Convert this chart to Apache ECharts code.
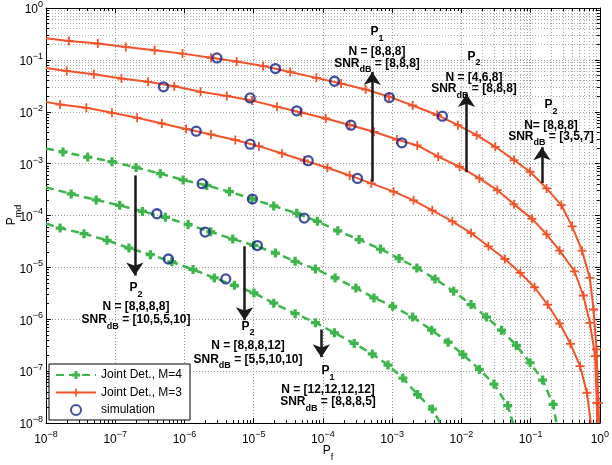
<!DOCTYPE html>
<html><head><meta charset="utf-8">
<script src="https://cdn.jsdelivr.net/npm/echarts@6/dist/echarts.min.js"></script>
<style>html,body{margin:0;padding:0;background:#fff}#c{width:612px;height:465px}</style>
</head><body><div id="c"></div>
<script>
// ---------------- data ----------------
// Joint Det., M=3 (three curves)
const m3A_pf  = [1e-8, 2.14e-8, 5.60e-8, 1.42e-7, 3.71e-7, 9.38e-7, 2.42e-6, 5.68e-6, 1.37e-5, 3.37e-5, 8.05e-5, 1.83e-4, 4.14e-4, 9.00e-4, 1.98e-3, 4.49e-3, 8.91e-3, 0.0166, 0.0310, 0.0577, 0.0984, 0.170, 0.278, 0.398, 0.553, 0.718, 0.811, 0.895, 0.955, 0.977];
const m3A_pmd = [0.262, 0.232, 0.206, 0.178, 0.153, 0.132, 0.110, 0.0926, 0.0765, 0.0586, 0.0450, 0.0349, 0.0268, 0.0196, 0.0132, 0.00865, 0.00550, 0.00353, 0.00211, 0.00117, 6.98e-4, 3.33e-4, 1.59e-4, 6.18e-5, 2.10e-5, 6.25e-6, 1.54e-6, 2.62e-7, 2.45e-8, 1e-8];
const m3B_pf  = [1e-8, 1.99e-8, 4.91e-8, 1.23e-7, 2.98e-7, 7.13e-7, 1.71e-6, 4.09e-6, 9.48e-6, 2.17e-5, 4.88e-5, 1.10e-4, 2.43e-4, 5.46e-4, 1.17e-3, 2.31e-3, 4.63e-3, 9.42e-3, 0.0182, 0.0330, 0.0577, 0.105, 0.170, 0.263, 0.430, 0.577, 0.718, 0.855, 0.904, 0.918];
const m3B_pmd = [0.0700, 0.0613, 0.0527, 0.0436, 0.0377, 0.0310, 0.0242, 0.0202, 0.0164, 0.01244, 0.00966, 0.00741, 0.00555, 0.00411, 0.00292, 0.00224, 0.00136, 8.71e-4, 5.19e-4, 3.09e-4, 1.64e-4, 8.61e-5, 4.34e-5, 2.11e-5, 8.41e-6, 2.87e-6, 8.51e-7, 1.95e-7, 2.45e-8, 1e-8];
const m3C_pf  = [1e-8, 1.60e-8, 3.83e-8, 8.97e-8, 2.07e-7, 4.71e-7, 1.06e-6, 2.42e-6, 5.43e-6, 1.19e-5, 2.56e-5, 5.38e-5, 1.16e-4, 2.43e-4, 4.99e-4, 1.05e-3, 2.04e-3, 3.80e-3, 7.40e-3, 0.0138, 0.0246, 0.0426, 0.0710, 0.114, 0.176, 0.263, 0.377, 0.518, 0.652, 0.741];
const m3C_pmd = [0.0155, 0.01377, 0.01189, 0.00953, 0.00764, 0.00593, 0.00465, 0.00365, 0.00286, 0.00217, 0.00157, 0.00115, 8.33e-4, 5.92e-4, 4.16e-4, 2.88e-4, 1.96e-4, 1.26e-4, 7.71e-5, 4.59e-5, 2.55e-5, 1.45e-5, 7.80e-6, 4.14e-6, 1.92e-6, 8.28e-7, 3.36e-7, 1.25e-7, 3.83e-8, 1e-8];
// Joint Det., M=4 (three curves)
const m4A_pf  = [1e-8, 1.76e-8, 4.00e-8, 8.97e-8, 2.00e-7, 4.47e-7, 9.57e-7, 2.10e-6, 4.47e-6, 9.48e-6, 1.95e-5, 4.19e-5, 8.32e-5, 1.64e-4, 3.33e-4, 6.78e-4, 1.26e-3, 2.28e-3, 4.16e-3, 7.74e-3, 0.0138, 0.0231, 0.0380, 0.0622, 0.0984, 0.149, 0.212, 0.236];
const m4A_pmd = [0.00196, 0.00168, 0.00134, 0.00109, 8.44e-4, 6.41e-4, 4.85e-4, 3.80e-4, 2.88e-4, 2.09e-4, 1.53e-4, 1.10e-4, 7.71e-5, 5.06e-5, 3.43e-5, 2.26e-5, 1.48e-5, 9.73e-6, 5.98e-6, 3.47e-6, 1.92e-6, 1.10e-6, 6.16e-7, 3.13e-7, 1.45e-7, 6.71e-8, 2.29e-8, 1e-8];
const m4B_pf  = [1e-8, 2.31e-8, 5.31e-8, 1.16e-7, 2.48e-7, 5.31e-7, 1.13e-6, 2.40e-6, 4.98e-6, 1.01e-5, 2.06e-5, 3.97e-5, 7.80e-5, 1.50e-4, 2.99e-4, 5.46e-4, 1.02e-3, 1.98e-3, 3.72e-3, 6.43e-3, 0.0105, 0.0182, 0.0296, 0.0467, 0.0558];
const m4B_pmd = [3.48e-4, 2.61e-4, 2.00e-4, 1.57e-4, 1.20e-4, 9.21e-5, 6.67e-5, 4.84e-5, 3.52e-5, 2.66e-5, 1.89e-5, 1.31e-5, 9.31e-6, 6.25e-6, 4.02e-6, 2.58e-6, 1.78e-6, 1.10e-6, 6.16e-7, 3.62e-7, 2.10e-7, 1.08e-7, 5.62e-8, 2.17e-8, 1e-8];
const m4C_pf  = [1e-8, 1.60e-8, 3.54e-8, 7.62e-8, 1.58e-7, 3.22e-7, 6.58e-7, 1.33e-6, 2.70e-6, 5.26e-6, 1.01e-5, 1.95e-5, 3.97e-5, 7.80e-5, 1.47e-4, 2.83e-4, 5.16e-4, 8.71e-4, 1.43e-3, 2.33e-3, 3.80e-3, 4.94e-3];
const m4C_pmd = [6.97e-5, 5.73e-5, 4.47e-5, 3.32e-5, 2.36e-5, 1.76e-5, 1.28e-5, 9.07e-6, 6.25e-6, 4.52e-6, 3.21e-6, 2.04e-6, 1.28e-6, 8.59e-7, 5.47e-7, 3.41e-7, 2.15e-7, 1.31e-7, 7.34e-8, 3.53e-8, 1.86e-8, 1e-8];
// simulation points
const sim_pf  = [2.94e-6, 2.06e-5, 1.47e-4, 9.10e-4, 5.33e-3,
                 4.98e-7, 8.89e-6, 4.19e-5, 2.54e-4, 1.38e-3,
                 1.48e-6, 8.89e-6, 6.14e-5, 3.16e-4,
                 1.80e-6, 9.59e-6, 5.38e-5,
                 4.00e-7, 1.99e-6, 1.13e-5,
                 5.86e-7, 3.95e-6];
const sim_pmd = [0.109, 0.0679, 0.0387, 0.0188, 0.00820,
                 0.0302, 0.0185, 0.0104, 0.00550, 0.00252,
                 0.00422, 0.00237, 0.00114, 5.19e-4,
                 4.10e-4, 2.07e-4, 8.93e-5,
                 1.08e-4, 4.80e-5, 2.63e-5,
                 1.45e-5, 5.98e-6];
// decade tick exponents
const decadeExponents = [-8, -7, -6, -5, -4, -3, -2, -1, 0];
// annotation arrows [P_f, P_md tail, P_md head]
const arrow_pf   = [5.16e-4, 0.01186, 0.146, 1.92e-7, 7.38e-6, 9.48e-5];
const arrow_from = [4.48e-4, 6.86e-4, 4.21e-4, 5.92e-4, 2.55e-5, 6.35e-7];
const arrow_to   = [0.0587, 0.0221, 2.08e-3, 6.95e-6, 9.6e-7, 1.86e-7];

// ---------------- styling ----------------
const FONT = "'Liberation Sans', Arial, Helvetica, sans-serif";
const RED = '#f4532a', GREEN = '#3cb54a', NAVY = '#14238a';
const plusThin = 'path://M4,0H6V4H10V6H6V10H4V6H0V4H4Z';
const plusThick = 'path://M3.2,0H6.8V3.2H10V6.8H6.8V10H3.2V6.8H0V3.2H3.2Z';

function lineData(xs, ys) {
  return xs.map((x, i) => {
    const it = { value: [x, ys[i]] };
    if (i === 0 || i === xs.length - 1) it.symbol = 'none';
    return it;
  });
}
function redSeries(xs, ys) {
  return { type: 'line', name: 'Joint Det., M=3', data: lineData(xs, ys), symbol: plusThin, symbolSize: 9,
    lineStyle: { color: RED, width: 2 }, itemStyle: { color: RED }, z: 4, silent: true };
}
function greenSeries(xs, ys) {
  return { type: 'line', name: 'Joint Det., M=4', data: lineData(xs, ys), symbol: plusThick, symbolSize: 9,
    lineStyle: { color: GREEN, width: 2.5, type: [8, 5] }, itemStyle: { color: GREEN }, z: 3, silent: true };
}

// minor grid + minor ticks
const minorVals = [];
for (let e = -8; e < 0; e++) for (let m = 2; m <= 9; m++) minorVals.push(m * Math.pow(10, e));
const gridLines = [];
minorVals.forEach(v => { gridLines.push({ xAxis: v }); gridLines.push({ yAxis: v }); });
const tickLines = [];
const tY = Math.pow(10, 3 / 52), tX = Math.pow(10, 3 / 70.3);
minorVals.forEach(v => {
  tickLines.push([{ coord: [v, 1] }, { coord: [v, 1 / tY] }]);
  tickLines.push([{ coord: [v, 1e-8] }, { coord: [v, 1e-8 * tY] }]);
  tickLines.push([{ coord: [1e-8, v] }, { coord: [1e-8 * tX, v] }]);
  tickLines.push([{ coord: [1, v] }, { coord: [1 / tX, v] }]);
});
const arrowLines = arrow_pf.map((x, i) => [{ coord: [x, arrow_from[i]] }, { coord: [x, arrow_to[i]] }]);

function supLabel(v) {
  const e = Math.round(Math.log10(v));
  if (decadeExponents.indexOf(e) < 0) return '';
  return '{b|10}{s|' + (e < 0 ? '\u2212' + (-e) : e) + '}';
}
const tickRich = {
  b: { fontSize: 12, lineHeight: 16, verticalAlign: 'bottom', fontFamily: FONT, color: '#000' },
  s: { fontSize: 9, lineHeight: 9, verticalAlign: 'top', fontFamily: FONT, color: '#000' }
};
const annRich = {
  b: { fontSize: 12, fontWeight: 'bold', lineHeight: 12, verticalAlign: 'top', fontFamily: FONT, fill: '#000' },
  s: { fontSize: 9, fontWeight: 'bold', lineHeight: 17, verticalAlign: 'bottom', fontFamily: FONT, fill: '#000' }
};
const titleRich = {
  b: { fontSize: 12, lineHeight: 12, verticalAlign: 'top', fontFamily: FONT, fill: '#000' },
  s: { fontSize: 9, lineHeight: 17, verticalAlign: 'bottom', fontFamily: FONT, fill: '#000' }
};
const annotationText = [
  [377, 31.7, '{b|P}{s|1}'], [377, 51.5, '{b|N = [8,8,8]}'], [377, 63.5, '{b|SNR}{s|dB}{b| = [8,8,8]}'],
  [474, 56.5, '{b|P}{s|2}'], [474, 77.5, '{b|N = [4,6,8]}'], [474, 89, '{b|SNR}{s|dB}{b| = [8,8,8]}'],
  [551, 104.7, '{b|P}{s|2}'], [551, 125.5, '{b|N= [8,8,8]}'], [551, 136.5, '{b|SNR}{s|dB}{b| = [3,5,7]}'],
  [136, 288, '{b|P}{s|2}'], [136, 307, '{b|N = [8,8,8,8]}'], [136, 320, '{b|SNR}{s|dB}{b| = [10,5,5,10]}'],
  [248, 326.5, '{b|P}{s|2}'], [248, 346, '{b|N = [8,8,8,12]}'], [248, 359.5, '{b|SNR}{s|dB}{b| = [5,5,10,10]}'],
  [328, 371, '{b|P}{s|1}'], [328, 389.3, '{b|N = [12,12,12,12]}'], [328, 402, '{b|SNR}{s|dB}{b| = [8,8,8,5]}']
];
const graphics = annotationText.map(a => ({
  type: 'text', x: a[0], y: a[1] - 6, z: 100,
  style: { text: a[2], rich: annRich, align: 'center', verticalAlign: 'top', fontFamily: FONT }
}));
graphics.push({ type: 'text', x: 328, y: 445, z: 100,
  style: { text: '{b|P}{s|f}', rich: titleRich, align: 'center', verticalAlign: 'top', fontFamily: FONT } });
graphics.push({ type: 'text', x: 6, y: 215, rotation: Math.PI / 2, z: 100,
  style: { text: '{b|P}{s|md}', rich: titleRich, align: 'center', verticalAlign: 'top', fontFamily: FONT } });

const axisCommon = {
  type: 'log', logBase: 10, min: 1e-8, max: 1, splitNumber: 8,
  axisLine: { show: true, onZero: false, lineStyle: { color: '#000', width: 1 } },
  axisTick: { show: true, inside: true, length: 5, lineStyle: { color: '#000', width: 1 } },
  minorTick: { show: false }
};

const option = {
  animation: false,
  grid: { left: 46, top: 7, width: 562, height: 416, show: false },
  xAxis: [
    Object.assign({}, axisCommon, { position: 'bottom',
      axisLabel: { formatter: supLabel, rich: tickRich, margin: 7, hideOverlap: false },
      splitLine: { show: true, lineStyle: { color: '#999', width: 1, type: [1, 2] } } }),
    Object.assign({}, axisCommon, { position: 'top', axisLabel: { show: false }, splitLine: { show: false } })
  ],
  yAxis: [
    Object.assign({}, axisCommon, { position: 'left',
      axisLabel: { formatter: supLabel, rich: tickRich, margin: 3, hideOverlap: false },
      splitLine: { show: true, lineStyle: { color: '#999', width: 1, type: [1, 2] } } }),
    Object.assign({}, axisCommon, { position: 'right', axisLabel: { show: false }, splitLine: { show: false } })
  ],
  legend: {
    orient: 'vertical', left: 49, top: 364,
    data: ['Joint Det., M=4', 'Joint Det., M=3', 'simulation'],
    itemWidth: 40, itemHeight: 10, itemGap: 3.5,
    textStyle: { fontSize: 12, fontFamily: FONT, color: '#000', lineHeight: 14 },
    backgroundColor: '#fff', borderColor: '#000', borderWidth: 1, borderRadius: 0,
    padding: [4, 8, 3, 6], selectedMode: false, z: 50
  },
  series: [
    { type: 'line', name: 'minorgrid', data: [], silent: true, z: 0,
      markLine: { silent: true, symbol: 'none', z: 0, label: { show: false }, animation: false,
        lineStyle: { color: '#aaa', width: 1, type: [1, 2] }, emphasis: { disabled: true }, data: gridLines } },
    { type: 'line', name: 'minorticks', data: [], silent: true, z: 1,
      markLine: { silent: true, symbol: 'none', z: 1, label: { show: false }, animation: false,
        lineStyle: { color: '#000', width: 1, type: 'solid' }, emphasis: { disabled: true }, data: tickLines } },
    greenSeries(m4A_pf, m4A_pmd),
    greenSeries(m4B_pf, m4B_pmd),
    greenSeries(m4C_pf, m4C_pmd),
    redSeries(m3A_pf, m3A_pmd),
    redSeries(m3B_pf, m3B_pmd),
    redSeries(m3C_pf, m3C_pmd),
    { type: 'scatter', name: 'simulation', data: sim_pf.map((x, i) => [x, sim_pmd[i]]), symbol: 'circle', symbolSize: 9,
      itemStyle: { color: 'rgba(0,0,0,0)', borderColor: NAVY, borderWidth: 2.3 }, z: 6, silent: true },
    { type: 'line', name: 'arrows', data: [], silent: true, z: 8,
      markLine: { silent: true, symbol: ['none', 'arrow'], symbolSize: 13, z: 8, label: { show: false }, animation: false,
        lineStyle: { color: '#1a1a1a', width: 2.5, type: 'solid' }, emphasis: { disabled: true }, data: arrowLines } }
  ],
  graphic: { elements: graphics }
};
const chart = echarts.init(document.getElementById('c'), null, { renderer: 'canvas' });
chart.setOption(option);
</script></body></html>
